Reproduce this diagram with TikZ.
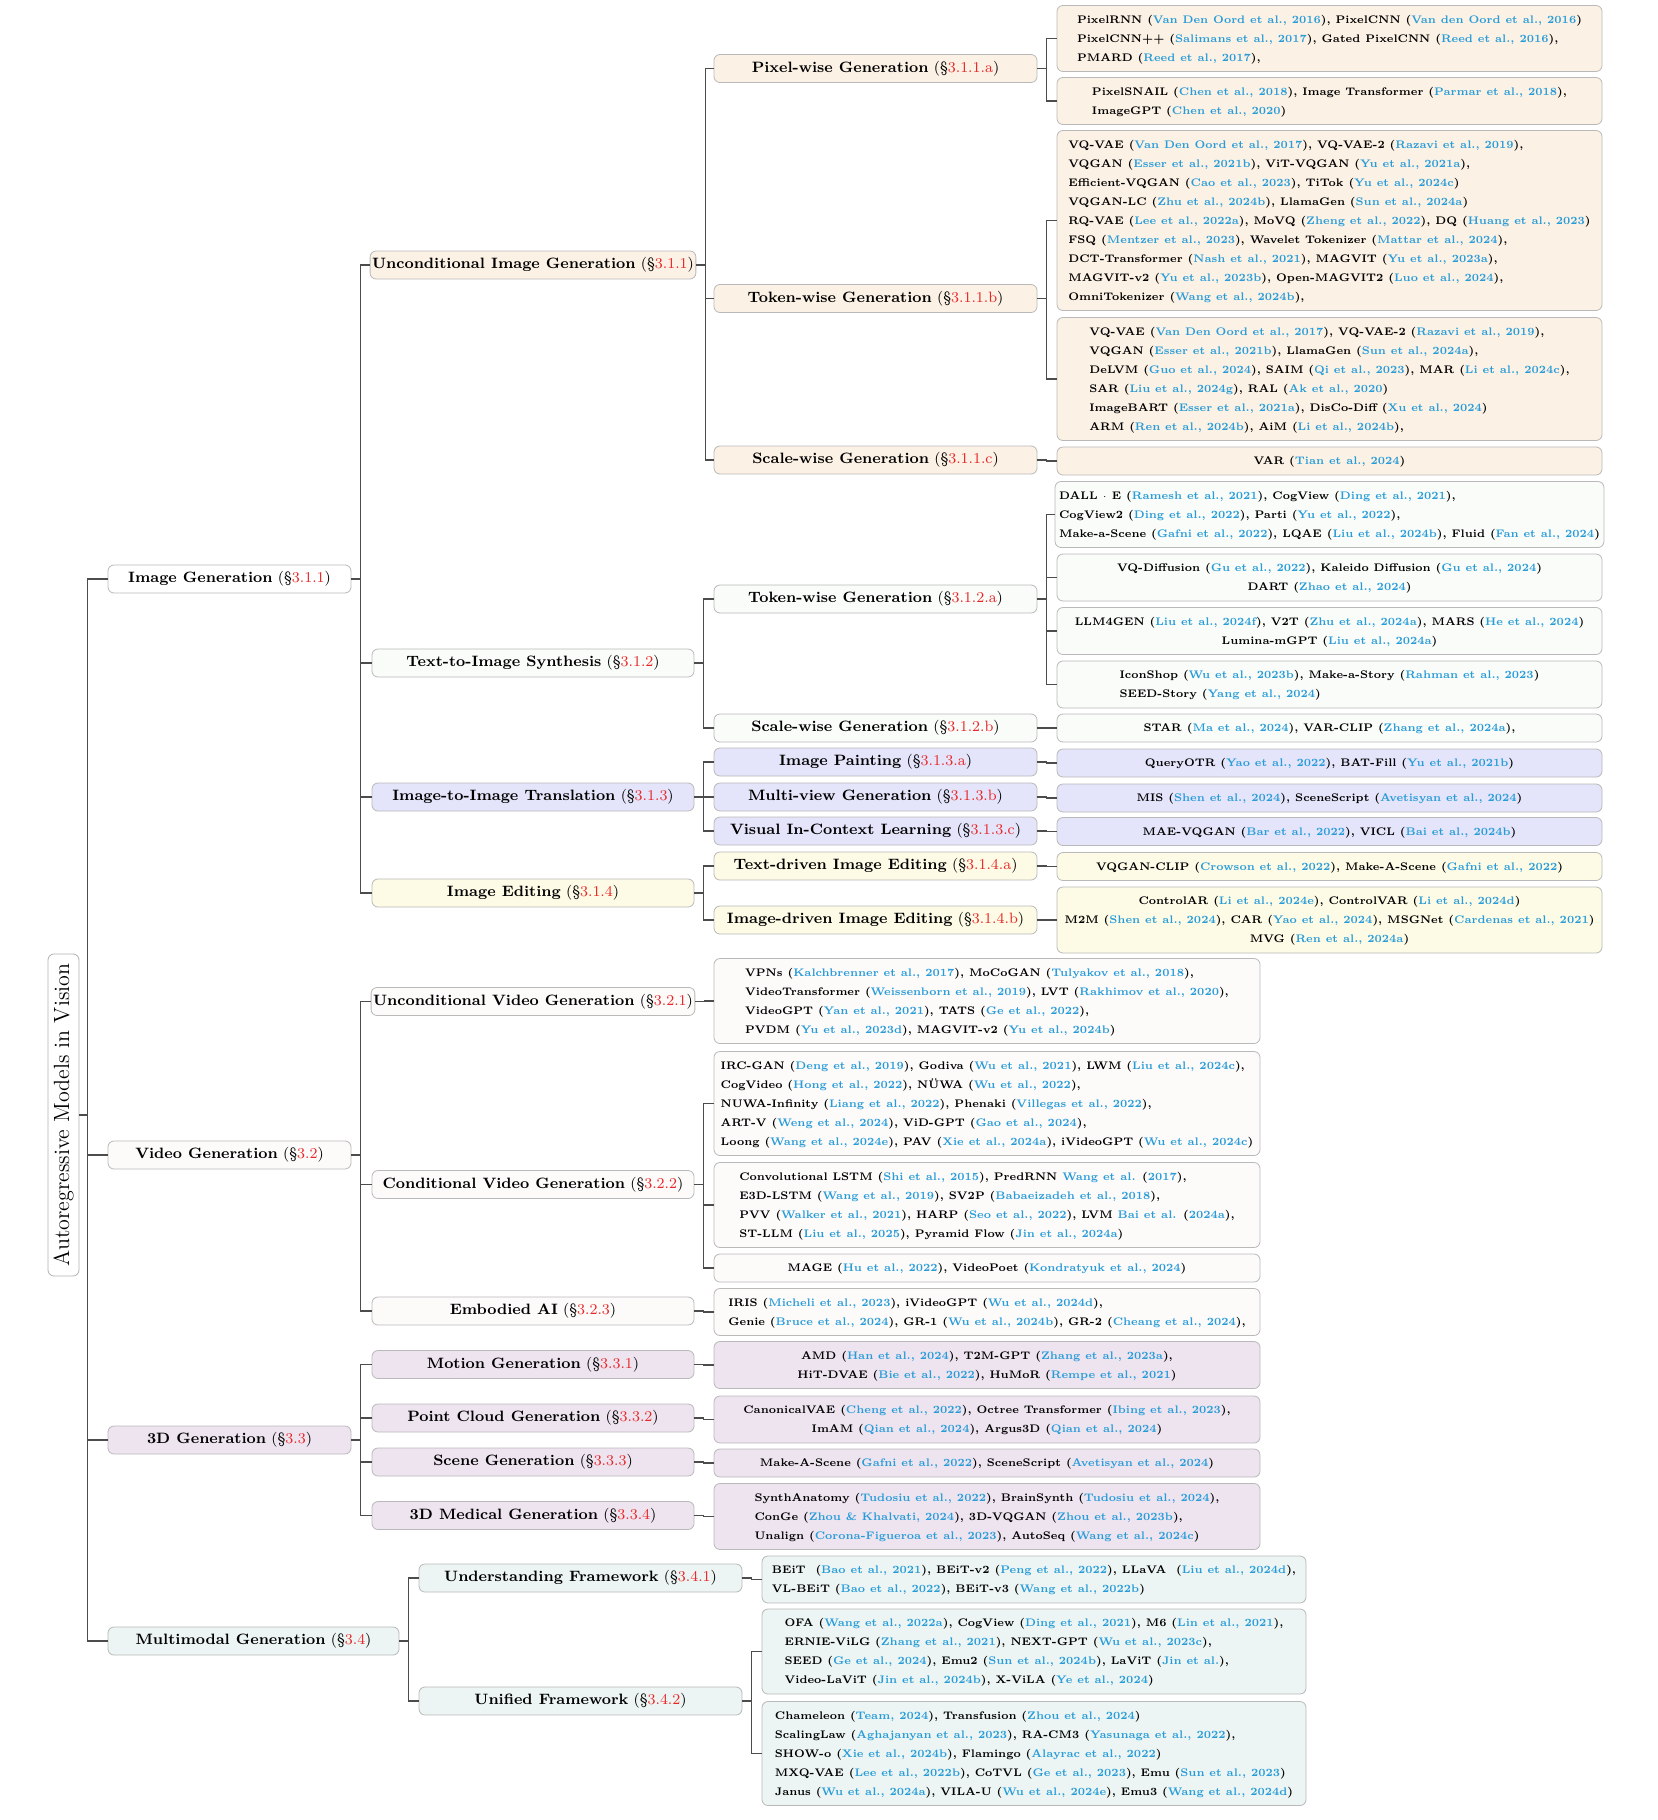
\documentclass[tikz,border=0pt]{standalone}
\usepackage{tikz}
\usetikzlibrary{positioning}
\definecolor{secred}{RGB}{232,38,38}
\definecolor{citeblue}{RGB}{40,156,216}
\definecolor{peach}{RGB}{252,241,229}
\definecolor{mint}{RGB}{249,252,249}
\definecolor{lavender}{RGB}{228,228,250}
\definecolor{cream}{RGB}{253,251,230}
\definecolor{blush}{RGB}{253,250,250}
\definecolor{lilac}{RGB}{238,228,240}
\definecolor{seafoam}{RGB}{236,245,243}
\tikzset{
  rootbox/.style={draw=gray!60, fill=white, rounded corners=3pt, rotate=90,
    minimum width=161pt, minimum height=15.5pt, inner sep=1pt,
    font=\fontsize{11}{13}\selectfont},
  sect/.style={draw=gray!55, rounded corners=3pt, minimum height=14pt,
    inner sep=1pt, font=\fontsize{7.5}{9}\selectfont},
  leaf/.style={draw=gray!55, rounded corners=3pt, minimum height=14pt,
    inner xsep=2pt, inner ysep=2.25pt, font=\fontsize{5.5}{9.5}\selectfont\bfseries},
  link/.style={draw=black!70, line width=0.65pt},
}
\newcommand{\sref}[1]{(\S\textcolor{secred}{#1})}
\newcommand{\cit}[1]{(\textcolor{citeblue}{#1})}
\newcommand{\tcit}[2]{\textcolor{citeblue}{#1} (\textcolor{citeblue}{#2})}
\newcommand{\leafbox}[2]{\scalebox{0.952}[1]{\begin{tabular}{@{}#1@{}}#2\end{tabular}}}
\begin{document}
\begin{tikzpicture}[x=0.5pt,y=-0.5pt]
  \useasboundingbox (0,0) rectangle (1658,1820);
  \fill[white] (0,0) rectangle (1658,1820);

  % root and first level
  \node(AR) [rootbox] at (63.5,1115) {Autoregressive Models in Vision};
  \node(IG) [sect, fill=white, minimum width=121.5pt] at (229.5,579) {\textbf{Image Generation} \sref{3.1.1}};
  \node(VG) [sect, fill=blush, minimum width=121.5pt] at (229.5,1155) {\textbf{Video Generation} \sref{3.2}};
  \node(TG) [sect, fill=lilac, minimum width=121.5pt] at (229.5,1440) {\textbf{3D Generation} \sref{3.3}};
  \node(MG) [sect, fill=seafoam, minimum width=145.5pt] at (253.5,1641) {\textbf{Multimodal Generation} \sref{3.4}};

  % image generation
  \node(UIG) [sect, fill=peach, minimum width=161pt] at (533,265) {\textbf{Unconditional Image Generation} \sref{3.1.1}};
  \node(TIS) [sect, fill=mint, minimum width=161pt] at (533,663) {\textbf{Text-to-Image Synthesis} \sref{3.1.2}};
  \node(IIT) [sect, fill=lavender, minimum width=161pt] at (533,797) {\textbf{Image-to-Image Translation} \sref{3.1.3}};
  \node(IE) [sect, fill=cream, minimum width=161pt] at (533,893) {\textbf{Image Editing} \sref{3.1.4}};

  \node(PWG) [sect, fill=peach, minimum width=161.5pt] at (875.5,68.5) {\textbf{Pixel-wise Generation} \sref{3.1.1.a}};
  \node(TWG) [sect, fill=peach, minimum width=161.5pt] at (875.5,298.5) {\textbf{Token-wise Generation} \sref{3.1.1.b}};
  \node(SWG) [sect, fill=peach, minimum width=161.5pt] at (875.5,460) {\textbf{Scale-wise Generation} \sref{3.1.1.c}};
  \node(TTWG) [sect, fill=mint, minimum width=161.5pt] at (875.5,599) {\textbf{Token-wise Generation} \sref{3.1.2.a}};
  \node(TSWG) [sect, fill=mint, minimum width=161.5pt] at (875.5,728) {\textbf{Scale-wise Generation} \sref{3.1.2.b}};
  \node(IP) [sect, fill=lavender, minimum width=161.5pt] at (875.5,762) {\textbf{Image Painting} \sref{3.1.3.a}};
  \node(MVG) [sect, fill=lavender, minimum width=161.5pt] at (875.5,797) {\textbf{Multi-view Generation} \sref{3.1.3.b}};
  \node(VICL) [sect, fill=lavender, minimum width=161.5pt] at (875.5,831) {\textbf{Visual In-Context Learning} \sref{3.1.3.c}};
  \node(TIE) [sect, fill=cream, minimum width=161.5pt] at (875.5,866) {\textbf{Text-driven Image Editing} \sref{3.1.4.a}};
  \node(IIE) [sect, fill=cream, minimum width=161.5pt] at (875.5,920) {\textbf{Image-driven Image Editing} \sref{3.1.4.b}};

  \node(PW1) [leaf, fill=peach, minimum width=272.5pt] at (1329.5,38.5) {\leafbox{l}{PixelRNN \cit{Van Den Oord et al., 2016}, PixelCNN \cit{Van den Oord et al., 2016}\\PixelCNN++ \cit{Salimans et al., 2017}, Gated PixelCNN \cit{Reed et al., 2016},\\PMARD \cit{Reed et al., 2017},}};
  \node(PW2) [leaf, fill=peach, minimum width=272.5pt] at (1329.5,101) {\leafbox{l}{PixelSNAIL \cit{Chen et al., 2018}, Image Transformer \cit{Parmar et al., 2018},\\ImageGPT \cit{Chen et al., 2020}}};
  \node(TW1) [leaf, fill=peach, minimum width=272.5pt] at (1329.5,220.5) {\leafbox{l}{VQ-VAE \cit{Van Den Oord et al., 2017}, VQ-VAE-2 \cit{Razavi et al., 2019},\\VQGAN \cit{Esser et al., 2021b}, ViT-VQGAN \cit{Yu et al., 2021a},\\Efficient-VQGAN \cit{Cao et al., 2023}, TiTok \cit{Yu et al., 2024c}\\VQGAN-LC \cit{Zhu et al., 2024b}, LlamaGen \cit{Sun et al., 2024a}\\RQ-VAE \cit{Lee et al., 2022a}, MoVQ \cit{Zheng et al., 2022}, DQ \cit{Huang et al., 2023}\\FSQ \cit{Mentzer et al., 2023}, Wavelet Tokenizer \cit{Mattar et al., 2024},\\DCT-Transformer \cit{Nash et al., 2021}, MAGVIT \cit{Yu et al., 2023a},\\MAGVIT-v2 \cit{Yu et al., 2023b}, Open-MAGVIT2 \cit{Luo et al., 2024},\\OmniTokenizer \cit{Wang et al., 2024b},}};
  \node(TW2) [leaf, fill=peach, minimum width=272.5pt] at (1329.5,379) {\leafbox{l}{VQ-VAE \cit{Van Den Oord et al., 2017}, VQ-VAE-2 \cit{Razavi et al., 2019},\\VQGAN \cit{Esser et al., 2021b}, LlamaGen \cit{Sun et al., 2024a},\\DeLVM \cit{Guo et al., 2024}, SAIM \cit{Qi et al., 2023}, MAR \cit{Li et al., 2024c},\\SAR \cit{Liu et al., 2024g}, RAL \cit{Ak et al., 2020}\\ImageBART \cit{Esser et al., 2021a}, DisCo-Diff \cit{Xu et al., 2024}\\ARM \cit{Ren et al., 2024b}, AiM \cit{Li et al., 2024b},}};
  \node(SW1) [leaf, fill=peach, minimum width=272.5pt] at (1329.5,461) {\leafbox{c}{VAR \cit{Tian et al., 2024}}};
  \node(TT1) [leaf, fill=mint, minimum width=272.5pt] at (1329.5,514.5) {\leafbox{l}{DALL $\cdot$ E \cit{Ramesh et al., 2021}, CogView \cit{Ding et al., 2021},\\CogView2 \cit{Ding et al., 2022}, Parti \cit{Yu et al., 2022},\\Make-a-Scene \cit{Gafni et al., 2022}, LQAE \cit{Liu et al., 2024b}, Fluid \cit{Fan et al., 2024}}};
  \node(TT2) [leaf, fill=mint, minimum width=272.5pt] at (1329.5,577.5) {\leafbox{c}{VQ-Diffusion \cit{Gu et al., 2022}, Kaleido Diffusion \cit{Gu et al., 2024}\\DART \cit{Zhao et al., 2024}}};
  \node(TT3) [leaf, fill=mint, minimum width=272.5pt] at (1329.5,631) {\leafbox{c}{LLM4GEN \cit{Liu et al., 2024f}, V2T \cit{Zhu et al., 2024a}, MARS \cit{He et al., 2024}\\Lumina-mGPT \cit{Liu et al., 2024a}}};
  \node(TT4) [leaf, fill=mint, minimum width=272.5pt] at (1329.5,684.5) {\leafbox{l}{IconShop \cit{Wu et al., 2023b}, Make-a-Story \cit{Rahman et al., 2023}\\SEED-Story \cit{Yang et al., 2024}}};
  \node(TS1) [leaf, fill=mint, minimum width=272.5pt] at (1329.5,728) {\leafbox{c}{STAR \cit{Ma et al., 2024}, VAR-CLIP \cit{Zhang et al., 2024a},}};
  \node(IP1) [leaf, fill=lavender, minimum width=272.5pt] at (1329.5,763) {\leafbox{c}{QueryOTR \cit{Yao et al., 2022}, BAT-Fill \cit{Yu et al., 2021b}}};
  \node(MV1) [leaf, fill=lavender, minimum width=272.5pt] at (1329.5,798) {\leafbox{c}{MIS \cit{Shen et al., 2024}, SceneScript \cit{Avetisyan et al., 2024}}};
  \node(VI1) [leaf, fill=lavender, minimum width=272.5pt] at (1329.5,831.5) {\leafbox{c}{MAE-VQGAN \cit{Bar et al., 2022}, VICL \cit{Bai et al., 2024b}}};
  \node(TE1) [leaf, fill=cream, minimum width=272.5pt] at (1329.5,866.5) {\leafbox{c}{VQGAN-CLIP \cit{Crowson et al., 2022}, Make-A-Scene \cit{Gafni et al., 2022}}};
  \node(IE1) [leaf, fill=cream, minimum width=272.5pt] at (1329.5,920) {\leafbox{c}{ControlAR \cit{Li et al., 2024e}, ControlVAR \cit{Li et al., 2024d}\\M2M \cit{Shen et al., 2024}, CAR \cit{Yao et al., 2024}, MSGNet \cit{Cardenas et al., 2021}\\MVG \cit{Ren et al., 2024a}}};

  % video generation
  \node(UVG) [sect, fill=blush, minimum width=161pt] at (533,1001.5) {\textbf{Unconditional Video Generation} \sref{3.2.1}};
  \node(CVG) [sect, fill=blush, minimum width=161pt] at (533,1184.5) {\textbf{Conditional Video Generation} \sref{3.2.2}};
  \node(EAI) [sect, fill=blush, minimum width=161pt] at (533,1311) {\textbf{Embodied AI} \sref{3.2.3}};

  \node(UV1) [leaf, fill=blush, minimum width=273pt] at (987,1001) {\leafbox{l}{VPNs \cit{Kalchbrenner et al., 2017}, MoCoGAN \cit{Tulyakov et al., 2018},\\VideoTransformer \cit{Weissenborn et al., 2019}, LVT \cit{Rakhimov et al., 2020},\\VideoGPT \cit{Yan et al., 2021}, TATS \cit{Ge et al., 2022},\\PVDM \cit{Yu et al., 2023d}, MAGVIT-v2 \cit{Yu et al., 2024b}}};
  \node(CV1) [leaf, fill=blush, minimum width=273pt] at (987,1103.5) {\leafbox{l}{IRC-GAN \cit{Deng et al., 2019}, Godiva \cit{Wu et al., 2021}, LWM \cit{Liu et al., 2024c},\\CogVideo \cit{Hong et al., 2022}, NÜWA \cit{Wu et al., 2022},\\NUWA-Infinity \cit{Liang et al., 2022}, Phenaki \cit{Villegas et al., 2022},\\ART-V \cit{Weng et al., 2024}, ViD-GPT \cit{Gao et al., 2024},\\Loong \cit{Wang et al., 2024e}, PAV \cit{Xie et al., 2024a}, iVideoGPT \cit{Wu et al., 2024c}}};
  \node(CV2) [leaf, fill=blush, minimum width=273pt] at (987,1205) {\leafbox{l}{Convolutional LSTM \cit{Shi et al., 2015}, PredRNN \tcit{Wang et al.}{2017},\\E3D-LSTM \cit{Wang et al., 2019}, SV2P \cit{Babaeizadeh et al., 2018},\\PVV \cit{Walker et al., 2021}, HARP \cit{Seo et al., 2022}, LVM \tcit{Bai et al.}{2024a},\\ST-LLM \cit{Liu et al., 2025}, Pyramid Flow \cit{Jin et al., 2024a}}};
  \node(CV3) [leaf, fill=blush, minimum width=273pt] at (987,1268) {\leafbox{c}{MAGE \cit{Hu et al., 2022}, VideoPoet \cit{Kondratyuk et al., 2024}}};
  \node(EA1) [leaf, fill=blush, minimum width=273pt] at (987,1312) {\leafbox{l}{IRIS \cit{Micheli et al., 2023}, iVideoGPT \cit{Wu et al., 2024d},\\Genie \cit{Bruce et al., 2024}, GR-1 \cit{Wu et al., 2024b}, GR-2 \cit{Cheang et al., 2024},}};

  % 3d generation
  \node(MoG) [sect, fill=lilac, minimum width=161pt] at (533,1364.5) {\textbf{Motion Generation} \sref{3.3.1}};
  \node(PCG) [sect, fill=lilac, minimum width=161pt] at (533,1418) {\textbf{Point Cloud Generation} \sref{3.3.2}};
  \node(ScG) [sect, fill=lilac, minimum width=161pt] at (533,1462) {\textbf{Scene Generation} \sref{3.3.3}};
  \node(MeG) [sect, fill=lilac, minimum width=161pt] at (533,1515.5) {\textbf{3D Medical Generation} \sref{3.3.4}};

  \node(Mo1) [leaf, fill=lilac, minimum width=273pt] at (987,1365) {\leafbox{c}{AMD \cit{Han et al., 2024}, T2M-GPT \cit{Zhang et al., 2023a},\\HiT-DVAE \cit{Bie et al., 2022}, HuMoR \cit{Rempe et al., 2021}}};
  \node(PC1) [leaf, fill=lilac, minimum width=273pt] at (987,1419.5) {\leafbox{c}{CanonicalVAE \cit{Cheng et al., 2022}, Octree Transformer \cit{Ibing et al., 2023},\\ImAM \cit{Qian et al., 2024}, Argus3D \cit{Qian et al., 2024}}};
  \node(Sc1) [leaf, fill=lilac, minimum width=273pt] at (987,1463) {\leafbox{c}{Make-A-Scene \cit{Gafni et al., 2022}, SceneScript \cit{Avetisyan et al., 2024}}};
  \node(Me1) [leaf, fill=lilac, minimum width=273pt] at (987,1516.5) {\leafbox{l}{SynthAnatomy \cit{Tudosiu et al., 2022}, BrainSynth \cit{Tudosiu et al., 2024},\\ConGe \cit{Zhou \& Khalvati, 2024}, 3D-VQGAN \cit{Zhou et al., 2023b},\\Unalign \cit{Corona-Figueroa et al., 2023}, AutoSeq \cit{Wang et al., 2024c}}};

  % multimodal generation
  \node(UF) [sect, fill=seafoam, minimum width=161.5pt] at (580.5,1578) {\textbf{Understanding Framework} \sref{3.4.1}};
  \node(UnF) [sect, fill=seafoam, minimum width=161.5pt] at (580.5,1701) {\textbf{Unified Framework} \sref{3.4.2}};

  \node(UF1) [leaf, fill=seafoam, minimum width=272pt] at (1034,1579.5) {\leafbox{l}{BEiT~~\cit{Bao et al., 2021}, BEiT-v2 \cit{Peng et al., 2022}, LLaVA~~\cit{Liu et al., 2024d},\\VL-BEiT \cit{Bao et al., 2022}, BEiT-v3 \cit{Wang et al., 2022b}}};
  \node(Un1) [leaf, fill=seafoam, minimum width=272pt] at (1034,1651.5) {\leafbox{l}{OFA \cit{Wang et al., 2022a}, CogView \cit{Ding et al., 2021}, M6 \cit{Lin et al., 2021},\\ERNIE-ViLG \cit{Zhang et al., 2021}, NEXT-GPT \cit{Wu et al., 2023c},\\SEED \cit{Ge et al., 2024}, Emu2 \cit{Sun et al., 2024b}, LaViT \cit{Jin et al.},\\Video-LaViT \cit{Jin et al., 2024b}, X-ViLA \cit{Ye et al., 2024}}};
  \node(Un2) [leaf, fill=seafoam, minimum width=272pt] at (1034,1753.5) {\leafbox{l}{Chameleon \cit{Team, 2024}, Transfusion \cit{Zhou et al., 2024}\\ScalingLaw \cit{Aghajanyan et al., 2023}, RA-CM3 \cit{Yasunaga et al., 2022},\\SHOW-o \cit{Xie et al., 2024b}, Flamingo \cit{Alayrac et al., 2022}\\MXQ-VAE \cit{Lee et al., 2022b}, CoTVL \cit{Ge et al., 2023}, Emu \cit{Sun et al., 2023}\\Janus \cit{Wu et al., 2024a}, VILA-U \cit{Wu et al., 2024e}, Emu3 \cit{Wang et al., 2024d}}};

  % connectors
  \foreach \c in {IG,VG,TG,MG} \draw[link] (AR.south) -- ++(8,0) |- (\c.west);
  \foreach \c in {UIG,TIS,IIT,IE} \draw[link] (IG.east) -- ++(9,0) |- (\c.west);
  \foreach \c in {UVG,CVG,EAI} \draw[link] (VG.east) -- ++(9,0) |- (\c.west);
  \foreach \c in {MoG,PCG,ScG,MeG} \draw[link] (TG.east) -- ++(9,0) |- (\c.west);
  \foreach \c in {UF,UnF} \draw[link] (MG.east) -- ++(9,0) |- (\c.west);
  \foreach \c in {PWG,TWG,SWG} \draw[link] (UIG.east) -- ++(9,0) |- (\c.west);
  \foreach \c in {TTWG,TSWG} \draw[link] (TIS.east) -- ++(9,0) |- (\c.west);
  \foreach \c in {IP,MVG,VICL} \draw[link] (IIT.east) -- ++(9,0) |- (\c.west);
  \foreach \c in {TIE,IIE} \draw[link] (IE.east) -- ++(9,0) |- (\c.west);
  \foreach \c in {PW1,PW2} \draw[link] (PWG.east) -- ++(9,0) |- (\c.west);
  \foreach \c in {TW1,TW2} \draw[link] (TWG.east) -- ++(9,0) |- (\c.west);
  \draw[link] (SWG.east) -- ++(9,0) |- (SW1.west);
  \foreach \c in {TT1,TT2,TT3,TT4} \draw[link] (TTWG.east) -- ++(9,0) |- (\c.west);
  \draw[link] (TSWG.east) -- ++(9,0) |- (TS1.west);
  \draw[link] (IP.east) -- ++(9,0) |- (IP1.west);
  \draw[link] (MVG.east) -- ++(9,0) |- (MV1.west);
  \draw[link] (VICL.east) -- ++(9,0) |- (VI1.west);
  \draw[link] (TIE.east) -- ++(9,0) |- (TE1.west);
  \draw[link] (IIE.east) -- ++(9,0) |- (IE1.west);
  \draw[link] (UVG.east) -- ++(9,0) |- (UV1.west);
  \foreach \c in {CV1,CV2,CV3} \draw[link] (CVG.east) -- ++(9,0) |- (\c.west);
  \draw[link] (EAI.east) -- ++(9,0) |- (EA1.west);
  \draw[link] (MoG.east) -- ++(9,0) |- (Mo1.west);
  \draw[link] (PCG.east) -- ++(9,0) |- (PC1.west);
  \draw[link] (ScG.east) -- ++(9,0) |- (Sc1.west);
  \draw[link] (MeG.east) -- ++(9,0) |- (Me1.west);
  \draw[link] (UF.east) -- ++(9,0) |- (UF1.west);
  \foreach \c in {Un1,Un2} \draw[link] (UnF.east) -- ++(9,0) |- (\c.west);
\end{tikzpicture}
\end{document}
